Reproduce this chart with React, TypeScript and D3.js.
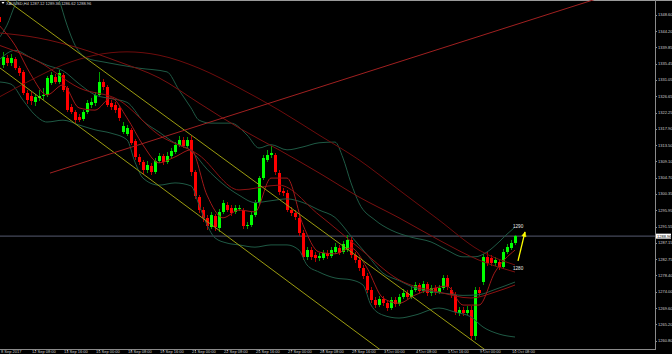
import React from "react";
import * as d3 from "d3";

// XAUUSD H4, one entry per bar (bar 0 = 8 Sep 20:00, bar 1 = 11 Sep 00:00)
const opens = [
  1348.0, 1335.05, 1336.9, 1335.6, 1336.7, 1334.3, 1333.2, 1327.5, 1326.7, 1325.1,
  1326.2, 1326.7, 1327.0, 1330.2, 1331.8, 1330.5, 1332.4, 1328.9, 1323.7, 1322.4,
  1321.1, 1320.5, 1322.4, 1324.3, 1324.8, 1327.0, 1330.5, 1329.1, 1324.8, 1324.3,
  1323.5, 1317.0, 1316.5, 1317.5, 1314.6, 1310.3, 1308.9, 1306.8, 1307.9, 1306.2,
  1309.2, 1310.5, 1308.9, 1310.5, 1311.6, 1313.5, 1314.9, 1313.2, 1314.9, 1306.2,
  1299.5, 1296.0, 1293.8, 1291.4, 1294.4, 1291.2, 1295.5, 1297.4, 1296.5, 1295.5,
  1296.3, 1296.0, 1291.7, 1292.0, 1294.7, 1297.9, 1304.6, 1309.5, 1310.8, 1310.8,
  1306.0, 1301.1, 1300.6, 1296.0, 1295.2, 1293.9, 1289.8, 1283.3, 1285.2, 1283.9,
  1283.1, 1283.1, 1284.4, 1283.6, 1284.7, 1285.8, 1284.7, 1285.2, 1287.9, 1283.9,
  1282.5, 1280.4, 1278.2, 1274.5, 1271.8, 1270.4, 1272.0, 1271.0, 1269.6, 1271.8,
  1270.7, 1272.6, 1273.7, 1272.6, 1274.5, 1275.8, 1274.2, 1276.1, 1273.7, 1275.0,
  1273.9, 1275.0, 1277.7, 1274.5, 1273.1, 1268.3, 1269.1, 1268.3, 1269.1, 1262.1,
  1274.5, 1276.6, 1283.3, 1283.1, 1281.7, 1282.0, 1280.7, 1284.7, 1285.8, 1287.12,
];
const highs = [
  1348.8, 1338.6, 1337.7, 1338.0, 1337.2, 1334.8, 1333.7, 1328.3, 1327.8, 1327.2,
  1328.3, 1328.9, 1332.1, 1333.2, 1332.6, 1333.7, 1332.9, 1329.4, 1324.6, 1322.9,
  1321.9, 1322.9, 1325.6, 1326.2, 1327.8, 1333.2, 1331.3, 1329.7, 1325.6, 1325.1,
  1324.0, 1319.7, 1318.9, 1318.1, 1315.1, 1311.1, 1309.5, 1309.2, 1308.7, 1310.0,
  1311.4, 1311.1, 1311.6, 1312.7, 1314.3, 1315.9, 1315.7, 1315.7, 1315.9, 1306.8,
  1300.0, 1296.8, 1294.7, 1295.5, 1294.9, 1296.3, 1298.7, 1298.2, 1297.4, 1297.4,
  1297.4, 1296.5, 1292.8, 1295.5, 1298.7, 1305.2, 1310.8, 1312.2, 1313.2, 1311.4,
  1306.8, 1301.9, 1301.4, 1296.8, 1296.0, 1294.7, 1290.6, 1286.0, 1286.0, 1284.7,
  1284.4, 1285.2, 1285.2, 1286.0, 1287.1, 1286.6, 1287.7, 1289.3, 1288.7, 1284.7,
  1283.3, 1281.2, 1279.0, 1275.3, 1272.6, 1272.8, 1272.8, 1271.8, 1272.6, 1272.6,
  1273.4, 1274.7, 1274.5, 1275.3, 1276.6, 1276.3, 1276.9, 1276.6, 1275.8, 1275.8,
  1275.8, 1278.5, 1278.5, 1275.3, 1273.9, 1269.9, 1269.9, 1270.1, 1270.1, 1275.3,
  1275.3, 1284.2, 1284.7, 1283.9, 1283.3, 1282.8, 1285.5, 1286.9, 1287.9, 1289.36,
];
const lows = [
  1345.8, 1334.2, 1334.8, 1334.8, 1333.7, 1332.1, 1327.0, 1324.6, 1324.3, 1324.0,
  1325.4, 1325.6, 1326.4, 1329.7, 1329.9, 1329.9, 1327.8, 1322.4, 1321.9, 1319.4,
  1319.7, 1320.0, 1321.9, 1323.5, 1324.0, 1326.4, 1328.3, 1323.7, 1322.9, 1322.1,
  1320.0, 1316.5, 1315.9, 1313.5, 1309.5, 1308.1, 1305.7, 1306.0, 1305.4, 1305.7,
  1308.7, 1308.1, 1308.4, 1310.0, 1311.1, 1313.0, 1312.7, 1312.7, 1305.2, 1299.0,
  1295.2, 1292.8, 1290.6, 1290.9, 1290.3, 1290.1, 1294.9, 1295.5, 1294.4, 1294.9,
  1295.7, 1290.9, 1290.9, 1291.4, 1294.1, 1297.4, 1304.1, 1308.9, 1310.0, 1305.4,
  1300.0, 1299.8, 1295.5, 1294.4, 1293.3, 1289.0, 1282.5, 1282.5, 1282.5, 1282.0,
  1282.3, 1282.5, 1282.8, 1283.1, 1284.2, 1283.9, 1284.2, 1284.7, 1283.1, 1281.7,
  1279.6, 1277.4, 1273.7, 1270.9, 1269.6, 1269.9, 1270.1, 1268.8, 1269.1, 1269.9,
  1270.2, 1272.0, 1272.0, 1272.0, 1273.9, 1273.7, 1273.7, 1272.8, 1272.8, 1273.1,
  1273.4, 1274.5, 1274.5, 1272.3, 1267.7, 1267.5, 1267.5, 1267.7, 1261.0, 1261.0,
  1272.8, 1275.8, 1280.9, 1280.9, 1280.9, 1279.8, 1280.1, 1284.2, 1285.2, 1286.62,
];
const closes = [
  1346.6, 1337.2, 1335.6, 1336.9, 1334.3, 1332.9, 1327.5, 1325.6, 1325.4, 1326.4,
  1326.7, 1327.0, 1331.6, 1332.4, 1330.5, 1332.9, 1328.3, 1322.9, 1322.4, 1320.2,
  1320.2, 1322.4, 1324.8, 1325.1, 1327.0, 1330.5, 1329.1, 1324.3, 1323.7, 1322.9,
  1320.8, 1318.6, 1318.1, 1314.0, 1310.3, 1308.9, 1306.8, 1308.1, 1306.2, 1309.2,
  1310.5, 1308.9, 1310.5, 1311.9, 1313.5, 1314.9, 1313.2, 1314.9, 1306.2, 1299.8,
  1296.0, 1293.8, 1291.7, 1294.7, 1291.4, 1295.5, 1297.9, 1296.0, 1295.2, 1296.5,
  1296.5, 1291.7, 1292.0, 1294.7, 1297.9, 1304.6, 1310.0, 1310.8, 1311.4, 1306.2,
  1300.9, 1300.6, 1296.0, 1295.2, 1294.1, 1289.8, 1283.3, 1285.2, 1283.3, 1283.1,
  1283.6, 1284.4, 1283.6, 1285.2, 1286.0, 1284.4, 1286.9, 1287.9, 1283.9, 1282.5,
  1280.4, 1278.2, 1274.5, 1271.8, 1270.4, 1272.0, 1271.0, 1269.6, 1271.8, 1270.7,
  1272.6, 1273.7, 1272.6, 1274.5, 1275.8, 1274.2, 1276.1, 1273.7, 1275.0, 1273.9,
  1275.0, 1277.7, 1275.3, 1273.1, 1268.5, 1269.1, 1268.3, 1269.1, 1262.1, 1274.5,
  1273.7, 1283.3, 1281.7, 1281.7, 1282.5, 1280.7, 1284.7, 1286.0, 1287.1, 1288.96,
];

// indicator readings: [bar, price]
const bbUpper = [
  [0, 1342.3], [2, 1345.8], [4, 1351.2], [6, 1355.3], [9, 1359.3], [12, 1357.9],
  [15, 1352.6], [17, 1345.8], [19, 1340.4], [22, 1336.9], [26, 1335.9], [30, 1335.1],
  [35, 1334.2], [42, 1333.2], [45, 1328.3], [48, 1323.5], [50, 1320.2], [53, 1319.4],
  [58, 1319.4], [62, 1316.2], [65, 1312.7], [68, 1313.6], [72, 1312.2], [76, 1313.0],
  [80, 1314.1], [84, 1314.3], [86, 1310.0], [88, 1303.3], [90, 1297.9], [94, 1293.3],
  [98, 1290.6], [103, 1288.7], [108, 1287.4], [112, 1285.2], [116, 1283.4], [119, 1283.4],
  [122, 1284.7], [125, 1287.4], [127, 1289.5], [129, 1291.4],
];
const bbMiddle = [
  [0, 1336.4], [4, 1339.0], [8, 1337.0], [12, 1335.0], [16, 1333.5], [20, 1330.0],
  [24, 1327.0], [28, 1326.0], [32, 1325.0], [36, 1320.0], [40, 1317.0], [44, 1314.0],
  [48, 1312.0], [52, 1307.0], [56, 1303.0], [60, 1300.0], [64, 1298.0], [68, 1298.5],
  [72, 1299.0], [76, 1298.0], [80, 1296.0], [84, 1294.0], [88, 1289.0], [92, 1284.0],
  [96, 1279.0], [100, 1277.0], [104, 1275.0], [108, 1274.0], [112, 1273.5], [116, 1273.0],
  [120, 1273.2], [124, 1274.6], [129, 1276.6],
];
const bbLower = [
  [0, 1330.5], [3, 1329.9], [6, 1325.6], [9, 1321.6], [12, 1319.7], [16, 1320.2],
  [20, 1318.9], [24, 1317.6], [28, 1316.7], [32, 1314.9], [34, 1308.9], [36, 1304.6],
  [40, 1302.7], [44, 1303.3], [48, 1302.5], [50, 1297.4], [52, 1292.0], [54, 1288.5],
  [57, 1287.1], [60, 1286.6], [64, 1286.0], [68, 1286.6], [72, 1286.6], [75, 1285.2],
  [77, 1281.2], [80, 1279.3], [84, 1277.7], [88, 1277.2], [91, 1275.8], [93, 1270.4],
  [96, 1267.7], [100, 1266.9], [104, 1267.7], [110, 1269.6], [114, 1268.5], [118, 1267.2],
  [121, 1264.5], [125, 1262.6], [129, 1261.8],
];
const maFast = [
  [0, 1345.8], [4, 1340.4], [8, 1332.4], [12, 1327.0], [16, 1329.7], [20, 1323.5],
  [24, 1322.9], [28, 1326.2], [32, 1320.8], [36, 1313.5], [40, 1308.7], [44, 1310.3],
  [48, 1312.2], [52, 1300.0], [56, 1293.9], [60, 1296.0], [64, 1295.5], [68, 1304.6],
  [72, 1304.6], [76, 1292.0], [80, 1284.7], [84, 1284.2], [88, 1285.8], [92, 1280.4],
  [96, 1272.3], [100, 1270.9], [104, 1273.1], [108, 1274.7], [112, 1275.5], [116, 1270.4],
  [120, 1270.4], [124, 1279.3], [129, 1285.2],
];
const maMedium = [
  [0, 1340.4], [10, 1335.9], [20, 1328.9], [30, 1325.6], [40, 1316.2], [50, 1310.8],
  [60, 1301.4], [70, 1302.7], [80, 1294.7], [90, 1285.8], [100, 1277.2], [110, 1273.9],
  [118, 1272.3], [124, 1273.9], [129, 1275.8],
];
const maSlow = [
  [0, 1343.7], [10, 1342.3], [20, 1339.6], [30, 1335.9], [40, 1331.6], [50, 1324.8],
  [60, 1318.1], [70, 1312.2], [80, 1306.0], [90, 1299.5], [100, 1293.9], [110, 1287.9],
  [120, 1282.5], [129, 1279.3],
];
const maLong = [
  [0, 1326.4], [8, 1331.0], [16, 1335.1], [24, 1337.7], [32, 1338.6], [40, 1337.7],
  [50, 1334.2], [60, 1328.9], [70, 1322.9], [80, 1316.2], [90, 1309.5], [100, 1301.4],
  [110, 1293.3], [120, 1285.2], [129, 1281.2],
];

// drawn objects: two anchor points each [bar, price]
const channelUpper = [[15.5, 1341.79], [115.75, 1262.9]];
const channelLower = [[0.25, 1334.25], [85.25, 1266.4]];
const supportRay = [[15.25, 1306.8], [68.25, 1325.0]];
const arrowPts = [[129.75, 1282.3], [131.5, 1290.1]];

const priceTicks = [
  1348.6, 1344.2, 1339.85, 1335.45, 1331.05, 1326.65, 1322.25, 1317.9, 1313.5, 1309.1,
  1304.7, 1300.35, 1295.95, 1291.55, 1287.15, 1282.75, 1278.4, 1274.0, 1269.6, 1265.2, 1260.8,
];
const timeLabels = [
  "8 Sep 2017", "12 Sep 08:00", "13 Sep 16:00", "15 Sep 00:00", "18 Sep 08:00",
  "19 Sep 16:00", "21 Sep 00:00", "22 Sep 08:00", "25 Sep 16:00", "27 Sep 00:00",
  "28 Sep 08:00", "29 Sep 16:00", "3 Oct 00:00", "4 Oct 08:00", "5 Oct 16:00",
  "9 Oct 00:00", "10 Oct 08:00",
];
const timeLabelBars = [0, 9, 17, 25, 33, 41, 49, 57, 65, 73, 81, 89, 97, 105, 113, 121, 129];

const header = "XAUUSD,H4  1287.12 1289.36 1286.62 1288.96";
const lastPrice = 1288.96;

const W = 672;
const H = 354;
const plotR = 655;
const plotB = 349;
const font = "'Liberation Sans', Arial, sans-serif";

export default function App() {
  const x = d3.scaleLinear().domain([0, 164]).range([-1, plotR]);
  const y = d3.scaleLinear().domain([1258.57, 1352.56]).range([plotB, 0]);

  const curve = d3
    .line<number[]>()
    .x((d) => x(d[0]))
    .y((d) => y(d[1]))
    .curve(d3.curveMonotoneX);

  // extend a two-point object line over the bar range
  const extend = (pts: number[][], from: number, to: number) => {
    const [[b0, p0], [b1, p1]] = pts;
    const k = (p1 - p0) / (b1 - b0);
    return [
      [from, p0 + k * (from - b0)],
      [to, p0 + k * (to - b0)],
    ];
  };
  const straight = d3
    .line<number[]>()
    .x((d) => x(d[0]))
    .y((d) => y(d[1]));

  const arrow0 = [x(arrowPts[0][0]), y(arrowPts[0][1])];
  const arrow1 = [x(arrowPts[1][0]), y(arrowPts[1][1])];
  const ang = Math.atan2(arrow1[1] - arrow0[1], arrow1[0] - arrow0[0]);
  const head = (a: number) => [arrow1[0] - 5 * Math.cos(ang + a), arrow1[1] - 5 * Math.sin(ang + a)];
  const h1 = head(0.45);
  const h2 = head(-0.45);

  return (
    <div style={{ position: "fixed", left: 0, top: 0, width: W, height: H, background: "#000" }}>
      <svg width={W} height={H} style={{ display: "block" }}>
        <defs>
          <clipPath id="plot">
            <rect x={0} y={0} width={plotR} height={plotB} />
          </clipPath>
        </defs>
        <rect width={W} height={H} fill="#000" />
        <line x1={0} x2={W} y1={0.5} y2={0.5} stroke="#9a9a9a" />

        <g clipPath="url(#plot)">
          <line x1={0} x2={plotR} y1={y(lastPrice)} y2={y(lastPrice)} stroke="#44485a" strokeWidth={1.2} />

          {opens.map((o, i) => {
            const c = closes[i];
            const up = c >= o;
            const cx = Math.round(x(i));
            const top = y(Math.max(o, c));
            const bh = Math.max(1, Math.abs(y(o) - y(c)));
            return (
              <g key={i} shapeRendering="crispEdges">
                <line x1={cx + 0.5} x2={cx + 0.5} y1={y(highs[i])} y2={y(lows[i])} stroke={up ? "#00a000" : "#b00000"} />
                <rect x={cx - 1} y={top} width={3} height={bh} fill={up ? "#00ff00" : "#ff0000"} />
              </g>
            );
          })}

          <g fill="none" strokeWidth={1}>
            <path d={curve(bbUpper) || ""} stroke="#1f5a45" />
            <path d={curve(bbMiddle) || ""} stroke="#1f5a45" />
            <path d={curve(bbLower) || ""} stroke="#1f5a45" />
            <path d={curve(maLong) || ""} stroke="#6e0c0c" />
            <path d={curve(maSlow) || ""} stroke="#7a1010" />
            <path d={curve(maMedium) || ""} stroke="#8c1212" />
            <path d={curve(maFast) || ""} stroke="#a01818" />
          </g>

          <g fill="none" strokeWidth={1}>
            <path d={straight(extend(channelUpper, -1, 164)) || ""} stroke="#9c9c10" />
            <path d={straight(extend(channelLower, -1, 164)) || ""} stroke="#9c9c10" />
            <path d={straight(extend(supportRay, 12.75, 170)) || ""} stroke="#a02020" />
          </g>

          <g stroke="#ffff00" strokeWidth={1.3} fill="none">
            <line x1={arrow0[0]} y1={arrow0[1]} x2={arrow1[0]} y2={arrow1[1]} />
            <polygon points={`${arrow1[0]},${arrow1[1]} ${h1[0]},${h1[1]} ${h2[0]},${h2[1]}`} fill="#ffff00" strokeWidth={0.5} />
          </g>
          <text x={x(129) - 2} y={y(1291.2)} fill="#e8e8e8" fontSize={4.6} fontFamily={font}>1290</text>
          <text x={x(129) - 2} y={y(1279.9)} fill="#e8e8e8" fontSize={4.6} fontFamily={font}>1280</text>
        </g>

        {/* header */}
        <path d="M1.5,2 L4.5,2 L3,4 Z" fill="#ffffff" />
        <text x={6} y={5} fill="#d8d8d8" fontSize={4} fontFamily={font}>{header}</text>

        {/* price axis */}
        <line x1={plotR + 0.5} x2={plotR + 0.5} y1={0} y2={plotB} stroke="#8a8a8a" />
        {priceTicks.map((v) => (
          <g key={v}>
            <line x1={plotR} x2={plotR + 2} y1={Math.round(y(v)) + 0.5} y2={Math.round(y(v)) + 0.5} stroke="#8a8a8a" />
            <text x={plotR + 3} y={y(v) + 1.5} fill="#d0d0d0" fontSize={4} fontFamily={font}>
              {v.toFixed(2)}
            </text>
          </g>
        ))}
        <rect x={plotR + 1} y={y(lastPrice) - 2.5} width={15} height={5} fill="#ffffff" />
        <text x={plotR + 2} y={y(lastPrice) + 1.5} fill="#000" fontSize={4} fontFamily={font}>
          {lastPrice.toFixed(2)}
        </text>

        {/* time axis */}
        <line x1={0} x2={plotR + 1} y1={plotB + 0.5} y2={plotB + 0.5} stroke="#8a8a8a" />
        {timeLabels.map((t, k) => {
          const lx = Math.max(1, x(timeLabelBars[k]) - 3);
          return (
            <g key={t}>
              <line x1={Math.round(x(timeLabelBars[k])) + 0.5} x2={Math.round(x(timeLabelBars[k])) + 0.5} y1={plotB} y2={plotB + 2} stroke="#8a8a8a" />
              <text x={lx} y={353} fill="#d0d0d0" fontSize={4} fontFamily={font}>
                {t}
              </text>
            </g>
          );
        })}
      </svg>
    </div>
  );
}
